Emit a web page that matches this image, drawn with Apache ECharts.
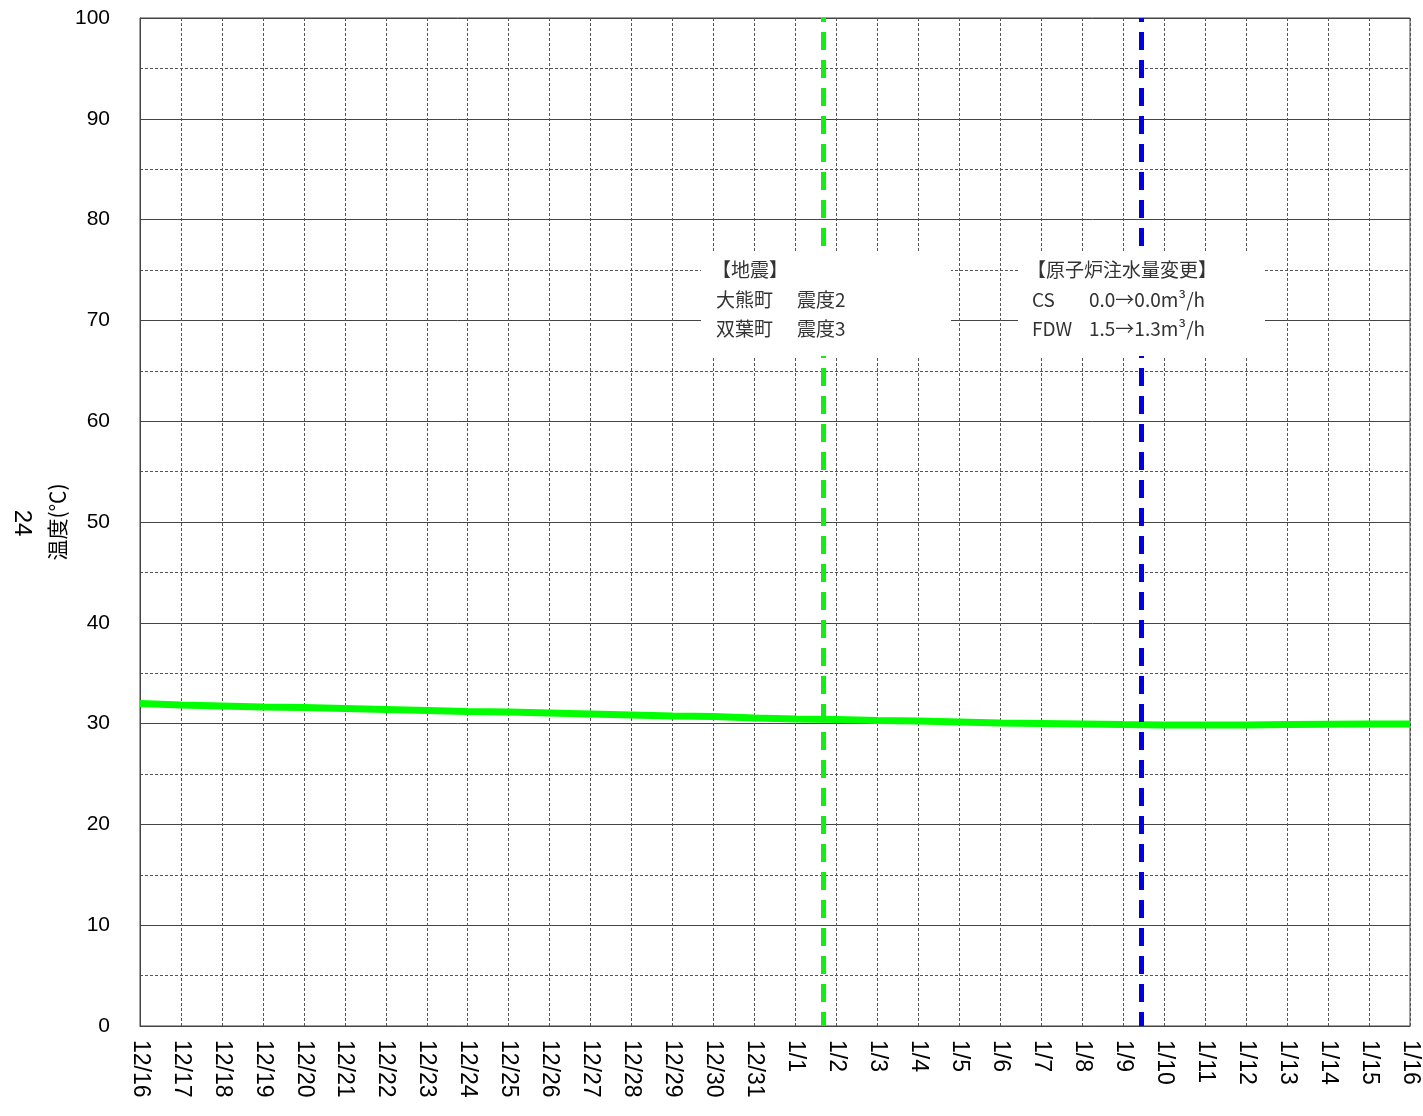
<!DOCTYPE html>
<html>
<head>
<meta charset="utf-8">
<script src="https://cdn.jsdelivr.net/npm/echarts@6/dist/echarts.min.js"></script>
<style>
html,body{margin:0;padding:0;background:#fff;}
#c{width:1423px;height:1116px;}
</style>
</head>
<body>
<div id="c"></div>
<script>
// Tick labels for each day (index = day offset from 12/16)
const xLabels = ['12/16','12/17','12/18','12/19','12/20','12/21','12/22','12/23','12/24','12/25','12/26','12/27','12/28','12/29','12/30','12/31',
  '1/1','1/2','1/3','1/4','1/5','1/6','1/7','1/8','1/9','1/10','1/11','1/12','1/13','1/14','1/15','1/16'];
// Day offsets of readings and temperature values (℃)
const days  = [0,1,2,3,4,5,6,7,8,9,10,11,12,13,14,15,16,17,18,19,20,21,22,23,24,25,26,27,28,29,30,31];
const temps = [32.0,31.85,31.75,31.65,31.6,31.5,31.4,31.3,31.2,31.15,31.05,30.95,30.85,30.75,30.7,30.55,
  30.45,30.4,30.3,30.25,30.15,30.05,30.0,29.95,29.9,29.87,29.85,29.87,29.9,29.93,29.95,29.95];
// Event markers (day offset)
const quakeDay = 16.67;
const flowChangeDay = 24.43;
const quakeTitle = '【地震】';
const quakeRows = [['大熊町','震度2'],['双葉町','震度3']];
const flowTitle = '【原子炉注水量変更】';
const flowRows = [['CS','0.0→0.0m³/h'],['FDW','1.5→1.3m³/h']];

const chart = echarts.init(document.getElementById('c'));
const lineData = days.map((d,i)=>[d,temps[i]]);
const txtFont = '"Noto Sans CJK JP", sans-serif';
const annFont = '19px ' + txtFont;
const annColor = '#333';
function t(x,y,text){return {type:'text',z:101,x:x,y:y,style:{text:text,font:annFont,fill:annColor,verticalAlign:'middle'}};}
const rowY = [270, 299.5, 329];
const graphics = [
  {type:'rect',z:100,shape:{x:701,y:251,width:250,height:105},style:{fill:'#fff'}},
  {type:'rect',z:100,shape:{x:1018,y:251,width:247,height:105},style:{fill:'#fff'}},
  t(712,rowY[0],quakeTitle),
  t(716,rowY[1],quakeRows[0][0]), t(797,rowY[1],quakeRows[0][1]),
  t(716,rowY[2],quakeRows[1][0]), t(797,rowY[2],quakeRows[1][1]),
  t(1027,rowY[0],flowTitle),
  t(1032,rowY[1],flowRows[0][0]), t(1089,rowY[1],flowRows[0][1]),
  t(1032,rowY[2],flowRows[1][0]), t(1089,rowY[2],flowRows[1][1]),
  {type:'text',z:101,x:57,y:522,rotation:Math.PI/2,style:{text:'温度(℃)',font:'21px '+txtFont,fill:'#000',align:'center',verticalAlign:'middle'}},
  {type:'text',z:101,x:22,y:523,rotation:-Math.PI/2,style:{text:'24',font:'24px "Liberation Sans", Arial, sans-serif',fill:'#000',align:'center',verticalAlign:'middle'}}
];
chart.setOption({
  animation:false,
  backgroundColor:'#fff',
  grid:{left:140,right:13,top:18,bottom:90,show:true,borderColor:'#444',borderWidth:1},
  xAxis:{
    type:'value',min:0,max:31,interval:1,
    axisLine:{show:true,lineStyle:{color:'#444',width:1}},
    axisTick:{show:false},
    axisLabel:{rotate:-90,margin:14,color:'#000',fontSize:23,fontFamily:'"Liberation Sans", Arial, sans-serif',
      formatter:v=>xLabels[v]||''},
    splitLine:{show:true,lineStyle:{color:'#555',width:1,type:[3,2]}}
  },
  yAxis:{
    type:'value',min:0,max:100,interval:10,
    axisLine:{show:true,lineStyle:{color:'#444',width:1}},
    axisTick:{show:false},
    axisLabel:{margin:30,color:'#000',fontSize:21,fontFamily:'"Liberation Sans", Arial, sans-serif'},
    splitLine:{show:true,lineStyle:{color:'#444',width:1}},
    minorTick:{show:false,splitNumber:2},
    minorSplitLine:{show:true,lineStyle:{color:'#555',width:1,type:[3,2]}}
  },
  series:[{
    type:'line',data:lineData,symbol:'none',
    lineStyle:{color:'#00ff00',width:7},
    z:3,
    markLine:{
      silent:true,symbol:'none',label:{show:false},
      data:[
        {xAxis:quakeDay,lineStyle:{color:'#11ee11',width:5,type:[18,10],dashOffset:4}},
        {xAxis:flowChangeDay,lineStyle:{color:'#0000e0',width:5,type:[18,10],dashOffset:4}}
      ]
    }
  }],
  graphic:graphics
});
</script>
</body>
</html>
